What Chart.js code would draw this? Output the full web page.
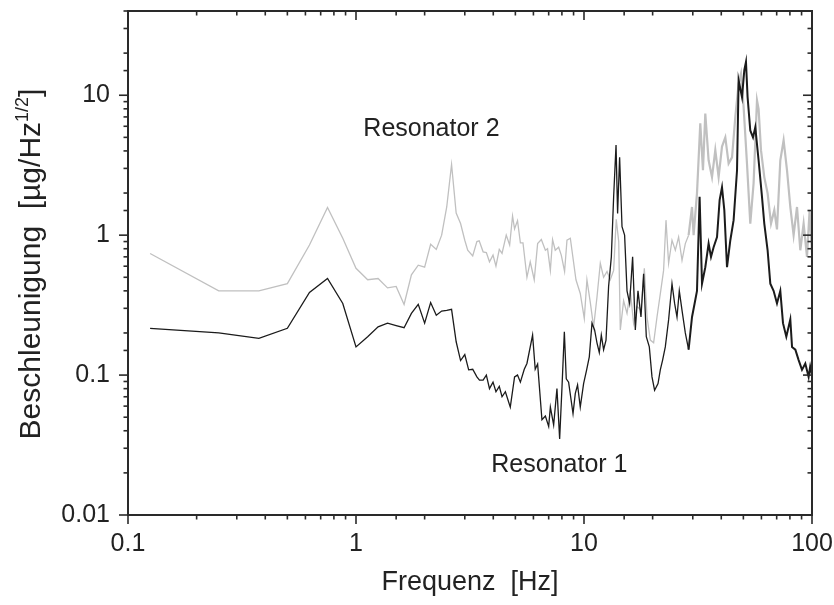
<!DOCTYPE html>
<html>
<head>
<meta charset="utf-8">
<script src="https://cdn.jsdelivr.net/npm/chart.js@4.4.1/dist/chart.umd.min.js"></script>
<style>
  html, body { margin: 0; padding: 0; background: #ffffff; }
  #wrap { width: 834px; height: 605px; }
</style>
</head>
<body>
<div id="wrap"><canvas id="c" width="834" height="605"></canvas></div>
<script>
// ---- data (frequency in Hz, acceleration in µg/√Hz) ----
const freq1 = [0.125,0.25,0.375,0.5,0.625,0.75,0.875,1.0,1.125,1.25,1.375,1.5,1.625,1.75,1.875,2.0,2.125,2.25,2.375,2.5,2.625,2.75,2.875,3.0,3.12,3.25,3.39,3.48,3.61,3.73,3.85,3.99,4.11,4.25,4.37,4.52,4.75,4.96,5.11,5.26,5.47,5.62,5.95,6.11,6.26,6.54,6.77,7.00,7.12,7.36,7.61,7.82,8.01,8.20,8.36,8.56,8.95,9.16,9.37,9.63,9.96,10.27,10.55,10.84,11.13,11.40,11.67,11.91,12.19,12.49,12.82,13.18,13.49,13.82,14.04,14.33,14.68,15.07,15.44,15.85,16.34,16.79,17.25,17.78,18.26,18.76,19.34,19.87,20.40,21.12,21.61,22.12,22.73,23.50,24.32,24.97,25.58,26.18,26.91,27.82,28.76,29.77,30.56,31.30,32.14,32.93,34.04,35.20,36.06,37.02,38.32,39.34,40.30,41.25,42.39,43.83,45.31,46.90,47.66,49.32,50.48,51.34,52.18,53.62,55.11,56.40,58.31,60.35,61.77,63.87,65.64,67.85,70.22,72.61,74.61,77.16,80.33,81.74,84.52,87.38,90.39,93.46,96.63,98.2,100];
const resonator1 = [0.216,0.20,0.183,0.216,0.39,0.49,0.325,0.159,0.188,0.221,0.235,0.226,0.218,0.276,0.32,0.235,0.33,0.268,0.287,0.29,0.295,0.173,0.127,0.14,0.109,0.11,0.097,0.092,0.092,0.10,0.080,0.089,0.076,0.083,0.070,0.076,0.059,0.097,0.10,0.089,0.11,0.121,0.193,0.11,0.12,0.048,0.051,0.043,0.059,0.044,0.080,0.035,0.083,0.204,0.094,0.089,0.053,0.074,0.085,0.059,0.087,0.109,0.135,0.235,0.21,0.17,0.145,0.193,0.152,0.178,0.43,0.70,1.88,4.4,1.43,3.6,1.15,1.0,0.40,0.325,0.70,0.21,0.40,0.26,0.53,0.188,0.159,0.097,0.078,0.087,0.109,0.128,0.159,0.248,0.45,0.325,0.26,0.40,0.29,0.20,0.152,0.26,0.325,0.40,1.88,0.45,0.59,0.87,0.70,0.82,0.97,1.78,2.2,1.51,0.59,0.92,1.28,2.91,12.8,9.7,15.1,17.3,9.7,5.6,5.0,5.9,3.43,1.88,1.21,0.78,0.45,0.40,0.325,0.40,0.235,0.188,0.25,0.159,0.152,0.128,0.109,0.121,0.097,0.115,0.10];

const freq2 = [0.125,0.25,0.375,0.5,0.625,0.75,0.875,1.0,1.125,1.25,1.375,1.5,1.625,1.75,1.875,2.0,2.125,2.25,2.375,2.5,2.625,2.75,2.875,3.0,3.09,3.25,3.39,3.47,3.61,3.73,3.85,3.99,4.11,4.25,4.37,4.56,4.72,4.86,4.96,5.11,5.26,5.40,5.62,5.81,6.05,6.26,6.50,6.77,6.92,7.12,7.28,7.48,7.74,7.95,8.22,8.42,8.71,9.22,9.63,10.03,10.3,10.66,11.02,11.40,11.79,12.19,12.62,13.04,13.49,13.85,14.2,14.43,14.92,15.44,15.96,16.50,17.08,17.78,18.39,18.90,19.54,20.20,20.90,21.61,22.34,22.89,23.50,24.32,25.15,26.00,26.91,27.82,28.76,29.77,30.25,31.30,32.36,33.25,34.04,35.20,36.43,37.66,38.94,40.30,41.67,43.08,44.59,46.10,47.66,48.83,50.12,51.86,53.62,55.44,57.38,58.31,59.74,61.77,63.87,66.11,68.33,70.22,72.61,75.07,77.70,80.33,83.05,85.95,88.86,91.88,95.08,97.61,100];
const resonator2 = [0.74,0.40,0.40,0.45,0.85,1.58,0.95,0.58,0.48,0.49,0.42,0.43,0.32,0.52,0.61,0.59,0.86,0.79,1.0,1.59,3.2,1.44,1.21,0.92,0.78,0.71,0.90,0.91,0.76,0.75,0.645,0.72,0.60,0.79,0.74,1.0,0.85,1.37,1.11,1.27,0.88,0.88,0.50,0.645,0.48,0.87,0.93,0.78,0.80,0.56,0.93,0.78,0.82,0.72,0.55,0.92,0.95,0.48,0.383,0.254,0.48,0.33,0.22,0.36,0.63,0.50,0.55,0.48,0.56,1.3,0.9,0.21,0.34,0.276,0.40,0.235,0.31,0.29,0.58,0.26,0.178,0.17,0.26,0.38,0.56,1.28,0.63,0.92,0.78,0.97,0.66,0.87,1.0,1.59,1.0,1.99,6.3,2.91,7.4,3.43,2.6,4.05,2.6,4.3,5.0,3.25,3.6,7.0,12.1,14.3,8.25,3.25,1.21,2.35,9.2,8.0,4.05,2.6,1.99,1.21,1.51,1.1,3.43,4.77,2.91,1.59,1.0,1.59,0.78,1.21,0.70,1.51,0.75];

const xTickValues = [0.1, 1, 10, 100];
const xTickLabels = ['0.1', '1', '10', '100'];
const yTickValues = [0.01, 0.1, 1, 10];
const yTickLabels = ['0.01', '0.1', '1', '10'];

const seriesNames = ['Resonator 1', 'Resonator 2'];
// text labels anchored in data coordinates [frequency, amplitude]
const labelAnchors = [[3.92, 0.0228], [1.077, 5.7]];

const xTitle = 'Frequenz  [Hz]';
const yTitleMain = 'Beschleunigung  [µg/Hz';
const yTitleSup = '1/2';
const yTitleEnd = ']';

const FONT = '"Liberation Sans", Arial, Helvetica, sans-serif';
const INK = '#222222';

function toPoints(xs, ys) { return xs.map((f, i) => ({ x: f, y: ys[i] })); }
function isDecade(v) { const l = Math.log10(v); return Math.abs(l - Math.round(l)) < 1e-6; }
function pickLabel(values, labels, v) {
  const i = values.findIndex(d => Math.abs(d - v) / d < 1e-6);
  return i >= 0 ? labels[i] : '';
}
function noPad(s) { s.paddingLeft = 0; s.paddingRight = 0; s.paddingTop = 0; s.paddingBottom = 0; }

const decor = {
  id: 'decor',
  afterDatasetsDraw(chart) {
    const { ctx, chartArea: { left, right, top, bottom }, scales: { x, y } } = chart;
    ctx.save();
    ctx.strokeStyle = '#2a2a2a';
    ctx.lineCap = 'butt';
    ctx.lineWidth = 1.6;
    const seg = (a, b, c, d) => { ctx.beginPath(); ctx.moveTo(a, b); ctx.lineTo(c, d); ctx.stroke(); };
    x.ticks.forEach(t => {
      const px = x.getPixelForValue(t.value);
      if (px < left - 0.5 || px > right + 0.5) return;
      const L = isDecade(t.value) ? 9 : 4.5;
      seg(px, bottom, px, bottom + L);
      seg(px, top, px, top + L);
    });
    y.ticks.forEach(t => {
      const py = y.getPixelForValue(t.value);
      if (py < top - 0.5 || py > bottom + 0.5) return;
      const L = isDecade(t.value) ? 9 : 4.5;
      seg(left - L, py, left, py);
      seg(right - L, py, right, py);
    });
    ctx.lineWidth = 2;
    ctx.strokeRect(left, top, right - left, bottom - top);

    ctx.fillStyle = INK;
    ctx.font = '25px ' + FONT;
    ctx.textAlign = 'left';
    ctx.textBaseline = 'middle';
    labelAnchors.forEach((a, i) => {
      ctx.fillText(seriesNames[i], x.getPixelForValue(a[0]), y.getPixelForValue(a[1]));
    });

    const mainF = '30px ' + FONT, supF = '18px ' + FONT;
    ctx.font = mainF; const w1 = ctx.measureText(yTitleMain).width; const w3 = ctx.measureText(yTitleEnd).width;
    ctx.font = supF; const w2 = ctx.measureText(yTitleSup).width;
    const total = w1 + w2 + w3;
    ctx.translate(30, 264);
    ctx.rotate(-Math.PI / 2);
    ctx.textAlign = 'left';
    ctx.textBaseline = 'alphabetic';
    let cx = -total / 2;
    const base = 10;
    ctx.font = mainF; ctx.fillText(yTitleMain, cx, base); cx += w1;
    ctx.font = supF; ctx.fillText(yTitleSup, cx, base - 12); cx += w2;
    ctx.font = mainF; ctx.fillText(yTitleEnd, cx, base);
    ctx.restore();
  }
};

new Chart(document.getElementById('c'), {
  type: 'line',
  data: {
    datasets: [
      {
        label: seriesNames[0],
        data: toPoints(freq1, resonator1),
        borderColor: '#1b1b1b',
        borderWidth: 1.3,
        pointRadius: 0,
        tension: 0,
        fill: false,
        segment: { borderWidth: c => (c.p0.parsed.x > 28 ? 2 : 1.3) }
      },
      {
        label: seriesNames[1],
        data: toPoints(freq2, resonator2),
        borderColor: '#c0c0c0',
        borderWidth: 1.3,
        pointRadius: 0,
        tension: 0,
        fill: false,
        segment: { borderWidth: c => (c.p0.parsed.x > 28 ? 2.2 : 1.3) }
      }
    ]
  },
  options: {
    responsive: false,
    devicePixelRatio: 1,
    animation: false,
    layout: { padding: { top: 11, right: 22, left: 0, bottom: 0 } },
    plugins: { legend: { display: false }, tooltip: { enabled: false } },
    scales: {
      x: {
        type: 'logarithmic',
        min: 0.1, max: 100,
        grid: { display: false, drawTicks: false },
        border: { display: false },
        ticks: {
          autoSkip: false, maxRotation: 0, padding: 14,
          color: INK, font: { size: 25, family: FONT },
          callback: v => pickLabel(xTickValues, xTickLabels, v)
        },
        title: {
          display: true, text: xTitle, color: INK,
          font: { size: 27, family: FONT }, padding: { top: 0, bottom: 6 }
        },
        afterFit: s => { s.height = 90; noPad(s); }
      },
      y: {
        type: 'logarithmic',
        min: 0.01, max: 40,
        grid: { display: false, drawTicks: false },
        border: { display: false },
        ticks: {
          autoSkip: false, padding: 18,
          color: INK, font: { size: 25, family: FONT },
          callback: v => pickLabel(yTickValues, yTickLabels, v)
        },
        afterFit: s => { s.width = 128; noPad(s); }
      }
    }
  },
  plugins: [decor]
});
</script>
</body>
</html>
